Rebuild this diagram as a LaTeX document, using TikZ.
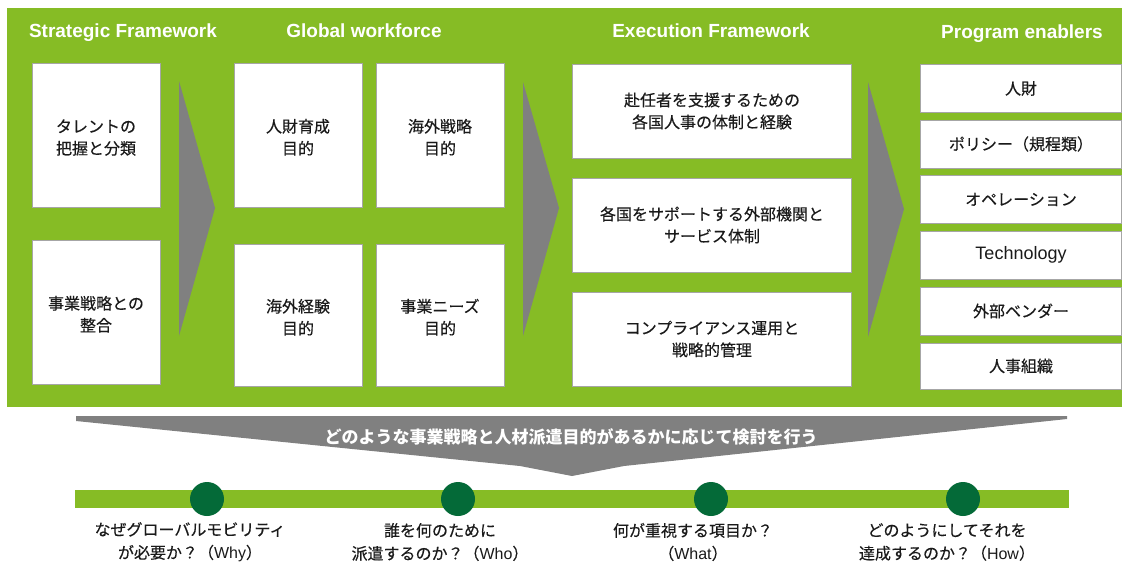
\documentclass[tikz,border=0pt]{standalone}
\usepackage{fontspec}
\setmainfont{Liberation Sans}
\newfontfamily\jp{Noto Sans CJK JP}[FakeBold=0.3]
\newfontfamily\jpb{Noto Sans CJK JP}

\definecolor{panelgreen}{HTML}{86BC25}
\definecolor{dotgreen}{HTML}{046A38}
\definecolor{chevgray}{HTML}{808080}
\definecolor{boxline}{HTML}{A6A6A6}
\definecolor{ink}{HTML}{1A1A1A}

% two centred lines, set a little below the middle of a tall box
\newcommand{\lowpair}[2]{\raisebox{-4pt}[\height][\depth]{\begin{tabular}{@{}c@{}}#1\\#2\end{tabular}}}

\tikzset{
  box/.style={draw=boxline, line width=0.8pt, fill=white, align=center,
    inner sep=2pt, text=ink, font=\jp\fontsize{16}{22}\selectfont},
  tallbox/.style={box, minimum width=128pt, minimum height=144pt},
  widebox/.style={box, minimum width=279pt, minimum height=94pt},
  enabler/.style={box, minimum width=201pt, minimum height=48pt},
  head/.style={anchor=base, text=white, font=\bfseries\fontsize{19}{22}\selectfont},
  chevron/.style={fill=chevgray},
  dot/.style={circle, fill=dotgreen, minimum size=34pt, inner sep=0pt},
  qlabel/.style={align=center, text=ink, font=\jp\fontsize{16}{23}\selectfont},
  banner/.style={text=white, font=\jpb\bfseries\fontsize{17}{20}\selectfont}
}

\begin{document}
\begin{tikzpicture}[x=1pt, y=-1pt]
  \useasboundingbox (0,0) rectangle (1122,563);
  \fill[white] (0,0) rectangle (1122,563);

  % green framework panel
  \fill[panelgreen] (7,8) rectangle (1122,407);

  % column headings
  \node[head] (hStrat) at (123,37.5) {Strategic Framework};
  \node[head] (hGlobal) at (364,37.5) {Global workforce};
  \node[head] (hExec) at (711,37.5) {Execution Framework};
  \node[head] (hProg) at (1022,38) {Program enablers};

  % Strategic Framework
  \node[tallbox] (s1) at (96,135) {\lowpair{タレントの}{把握と分類}};
  \node[tallbox] (s2) at (96,312) {\lowpair{事業戦略との}{整合}};

  % Global workforce
  \node[tallbox] (g1) at (298,135) {\lowpair{人財育成}{目的}};
  \node[tallbox] (g2) at (440,135) {\lowpair{海外戦略}{目的}};
  \node[tallbox, minimum height=142pt] (g3) at (298,315) {\lowpair{海外経験}{目的}};
  \node[tallbox, minimum height=142pt] (g4) at (440,315) {\lowpair{事業ニーズ}{目的}};

  % Execution Framework
  \node[widebox] (e1) at (712,111) {赴任者を支援するための\\各国人事の体制と経験};
  \node[widebox] (e2) at (712,225) {各国をサポートする外部機関と\\サービス体制};
  \node[widebox] (e3) at (712,339) {コンプライアンス運用と\\戦略的管理};

  % Program enablers
  \node[enabler] (p1) at (1021,88.5) {人財};
  \node[enabler] (p2) at (1021,144) {ポリシー（規程類）};
  \node[enabler] (p3) at (1021,199.5) {オペレーション};
  \node[enabler, font=\fontsize{18}{20}\selectfont] (p4) at (1021,255) {Technology};
  \node[enabler] (p5) at (1021,311) {外部ベンダー};
  \node[enabler, minimum height=46pt] (p6) at (1021,366) {人事組織};

  % chevrons between the columns
  \fill[chevron] (179,81) -- (215,208) -- (179,336) -- cycle;
  \fill[chevron] (523,82) -- (559,208) -- (523,336) -- cycle;
  \fill[chevron] (868,82) -- (904,209) -- (868,337) -- cycle;

  % funnel banner
  \fill[chevron] (76,416) -- (1067,416) -- (1067,419) -- (624,466)
    -- (572,476) -- (520,466) -- (76,421) -- cycle;
  \node[banner] (bn) at (571,437)
    {どのような事業戦略と人材派遣目的があるかに応じて検討を行う};

  % timeline
  \fill[panelgreen] (75,490) rectangle (1069,508);
  \node[dot] (c1) at (207,499) {};
  \node[dot] (c2) at (458,499) {};
  \node[dot] (c3) at (711,499) {};
  \node[dot] (c4) at (963,499) {};

  \node[qlabel] (q1) at (190,542)
    {なぜグローバルモビリティ\\が必要か？（{\rmfamily Why}）};
  \node[qlabel] (q2) at (440,542)
    {誰を何のために\\派遣するのか？（{\rmfamily Who}）};
  \node[qlabel] (q3) at (693,542)
    {何が重視する項目か？\\（{\rmfamily What}）};
  \node[qlabel] (q4) at (947,542)
    {どのようにしてそれを\\達成するのか？（{\rmfamily How}）};
\end{tikzpicture}
\end{document}
